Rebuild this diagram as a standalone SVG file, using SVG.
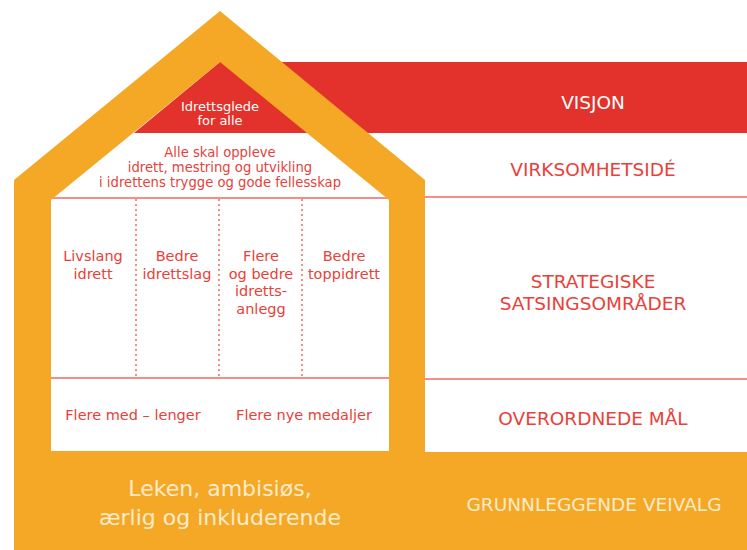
<svg xmlns="http://www.w3.org/2000/svg" width="747" height="550" viewBox="0 0 747 550">
<style>
.t{font-family:"DejaVu Sans","Liberation Sans",sans-serif;text-anchor:middle}
.red{fill:#E8413A}
.wh{fill:#ffffff}
.cream{fill:#FCEBCB}
.ln{stroke:#EE6A62;stroke-width:1.5;fill:none}
.dot{stroke:#EE6A62;stroke-width:1.5;stroke-dasharray:2 3;fill:none}
.c{font-size:14.5px}
.r{font-size:18.5px}
.i{font-size:13.2px}
</style>
<rect width="747" height="550" fill="#ffffff"/>
<g id="visjon-band">
<polygon points="220,62 134,133 747,133 747,62" fill="#E3322B"/>
</g>
<g id="bands-right">
<line class="ln" x1="425" y1="197" x2="747" y2="197"/>
<line class="ln" x1="425" y1="379" x2="747" y2="379"/>
</g>
<g id="house-inner">
<line class="ln" x1="51" y1="198" x2="389" y2="198"/>
<line class="ln" x1="51" y1="378" x2="389" y2="378"/>
</g>
<g id="connectors">
<line class="dot" x1="136" y1="199" x2="136" y2="377"/>
<line class="dot" x1="219" y1="199" x2="219" y2="377"/>
<line class="dot" x1="302" y1="199" x2="302" y2="377"/>
</g>
<g id="house">
<path fill="#F5A825" fill-rule="evenodd" d="M220,11 L425,180 L425,452 L747,452 L747,550 L14,550 L14,180 Z M220,62 L51,200 L51,451 L389,451 L389,200 Z"/>
</g>
<g id="vision-text">
<text class="t wh" x="220" y="111" font-size="13">Idrettsglede</text>
<text class="t wh" x="220" y="125" font-size="13">for alle</text>
</g>
<g id="idea-text">
<text class="t red i" x="220" y="157">Alle skal oppleve</text>
<text class="t red i" x="220" y="172">idrett, mestring og utvikling</text>
<text class="t red i" x="220" y="187">i idrettens trygge og gode fellesskap</text>
</g>
<g id="col1">
<text class="t red c" x="93" y="261">Livslang</text>
<text class="t red c" x="93" y="279">idrett</text>
</g>
<g id="col2">
<text class="t red c" x="177" y="261">Bedre</text>
<text class="t red c" x="177" y="279">idrettslag</text>
</g>
<g id="col3">
<text class="t red c" x="261" y="261">Flere</text>
<text class="t red c" x="261" y="279">og bedre</text>
<text class="t red c" x="261" y="296">idretts-</text>
<text class="t red c" x="261" y="314">anlegg</text>
</g>
<g id="col4">
<text class="t red c" x="344" y="261">Bedre</text>
<text class="t red c" x="344" y="279">toppidrett</text>
</g>
<g id="goals">
<text class="t red c" x="133" y="420">Flere med – lenger</text>
<text class="t red c" x="304" y="420">Flere nye medaljer</text>
</g>
<g id="values">
<text class="t cream" x="220" y="496" font-size="22">Leken, ambisiøs,</text>
<text class="t cream" x="220" y="525" font-size="22">ærlig og inkluderende</text>
</g>
<g id="labels">
<text class="t wh r" x="593" y="109">VISJON</text>
<text class="t red r" x="593" y="176">VIRKSOMHETSIDÉ</text>
<text class="t red r" x="593" y="288">STRATEGISKE</text>
<text class="t red r" x="593" y="310">SATSINGSOMRÅDER</text>
<text class="t red r" x="593" y="425">OVERORDNEDE MÅL</text>
<text class="t cream r" x="594" y="511">GRUNNLEGGENDE VEIVALG</text>
</g>
</svg>
